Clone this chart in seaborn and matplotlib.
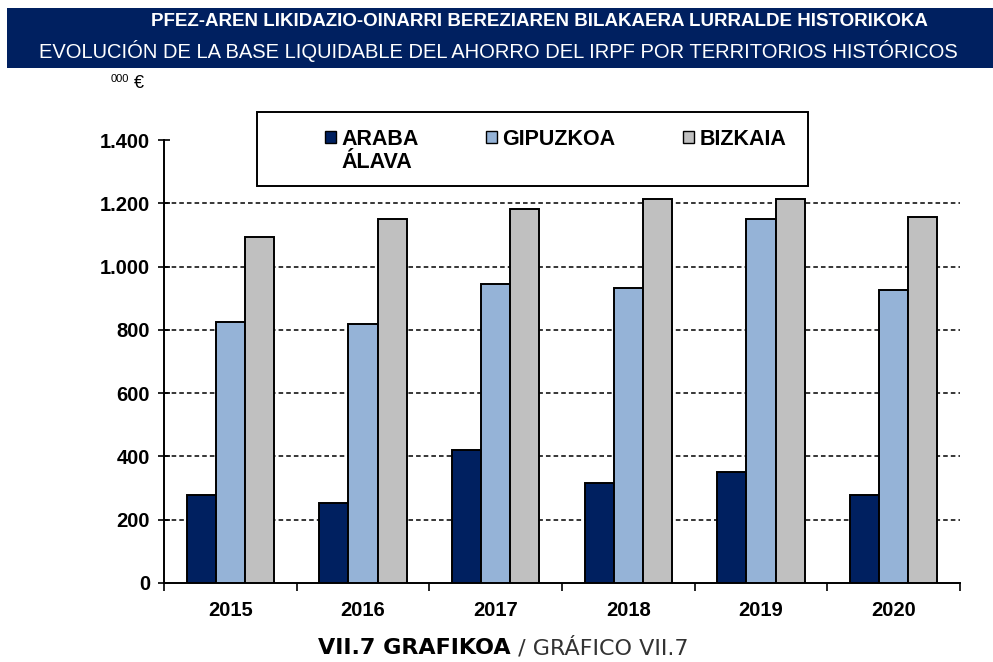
import matplotlib
matplotlib.use("Agg")
import matplotlib.pyplot as plt
from matplotlib.patches import Rectangle, Patch
from matplotlib.ticker import FuncFormatter, FixedLocator
import seaborn as sns
import pandas as pd

years = ["2015", "2016", "2017", "2018", "2019", "2020"]
araba = [277, 253, 420, 316, 351, 277]
gipuzkoa = [825, 819, 945, 932, 1150, 927]
bizkaia = [1094, 1150, 1182, 1213, 1213, 1157]
series_names = ["ARABA", "GIPUZKOA", "BIZKAIA"]
araba_second_line = "ÁLAVA"
colors = ["#002060", "#95B3D7", "#C0C0C0"]
title_eu = "PFEZ-AREN LIKIDAZIO-OINARRI BEREZIAREN BILAKAERA LURRALDE HISTORIKOKA"
title_es = "EVOLUCIÓN DE LA BASE LIQUIDABLE DEL AHORRO DEL IRPF POR TERRITORIOS HISTÓRICOS"
unit_label = "000"
caption_bold = "VII.7 GRAFIKOA"
caption_norm = " / GRÁFICO VII.7"

rows = []
for name, vals in zip(series_names, [araba, gipuzkoa, bizkaia]):
    for y, v in zip(years, vals):
        rows.append({"year": y, "serie": name, "value": v})
df = pd.DataFrame(rows)

sns.set_theme(style="white")
plt.rcParams["font.family"] = ["Liberation Sans", "DejaVu Sans"]
plt.rcParams["text.color"] = "black"

W, H = 993, 662
fig = plt.figure(figsize=(W / 100, H / 100), dpi=100)
fig.patch.set_facecolor("white")
ax = fig.add_axes([164 / W, 1 - 583 / H, (960 - 164) / W, (583 - 140) / H])

sns.barplot(data=df, x="year", y="value", hue="serie", hue_order=series_names,
            palette=colors, width=0.66, ax=ax, edgecolor="black", linewidth=1.4,
            legend=False, saturation=1, zorder=3)

ax.set_ylim(0, 1400)
ax.set_xlim(-0.5, 5.5)
ax.set_yticks(range(0, 1401, 200))
ax.yaxis.set_major_formatter(FuncFormatter(lambda v, p: f"{int(v):,}".replace(",", ".")))
for yv in range(200, 1201, 200):
    ax.axhline(yv, color="black", linestyle=(0, (3, 2)), linewidth=1.1, zorder=1)
ax.set_xlabel("")
ax.set_ylabel("")
for s in ["top", "right"]:
    ax.spines[s].set_visible(False)
for s in ["left", "bottom"]:
    ax.spines[s].set_color("black")
    ax.spines[s].set_linewidth(1.4)
ax.tick_params(axis="y", which="major", left=True, direction="inout", length=8, width=1.2,
               color="black", labelsize=14.5, pad=6)
ax.tick_params(axis="x", which="major", bottom=False, labelsize=14.5, pad=7)
ax.xaxis.set_minor_locator(FixedLocator([i - 0.5 for i in range(7)]))
ax.tick_params(axis="x", which="minor", bottom=True, direction="out", length=6, width=1.2,
               color="black")
for lab in ax.get_yticklabels() + ax.get_xticklabels():
    lab.set_fontweight("bold")
    lab.set_color("black")

# Title banner
fig.patches.append(Rectangle((7 / W, 1 - 68 / H), 1 - 7 / W, 60 / H, transform=fig.transFigure,
                             facecolor="#002060", edgecolor="none", zorder=0))
fig.text(539 / W, 1 - 22 / H, title_eu, ha="center", va="center", color="white",
         fontsize=13.5, fontweight="bold")
fig.text(498 / W, 1 - 51 / H, title_es, ha="center", va="center", color="white",
         fontsize=14.5)
fig.text(111 / W, 1 - 79 / H, unit_label, ha="left", va="center", fontsize=8, color="black")
fig.text(134 / W, 1 - 84 / H, "€", ha="left", va="center", fontsize=13, color="black")

# Legend box
fig.patches.append(Rectangle((257 / W, 1 - 186 / H), (808 - 257) / W, 74 / H,
                             transform=fig.transFigure, facecolor="white", edgecolor="black",
                             linewidth=1.4, zorder=5))
handles = [Patch(facecolor=c, edgecolor="black", linewidth=1.0) for c in colors]
leg = fig.legend(handles, series_names, loc="upper left", bbox_to_anchor=(325 / W, 1 - 129 / H),
                 ncol=3, frameon=False, handlelength=0.5, handleheight=0.5, handletextpad=0.25,
                 columnspacing=3.15, borderpad=0, borderaxespad=0, labelcolor="black",
                 prop={"weight": "bold", "size": 15.5})
leg.set_zorder(6)

r = fig.canvas.get_renderer()
fig.canvas.draw()
ext = leg.get_texts()[0].get_window_extent(r)
fig.text(ext.x0 / W, 1 - 162 / H, araba_second_line, ha="left", va="center", fontsize=15.5,
         fontweight="bold", color="black", zorder=7)

# Caption
t1 = fig.text(0, 1 - 648 / H, caption_bold, ha="left", va="center", fontsize=16,
              fontweight="bold", family="DejaVu Sans", color="black")
t2 = fig.text(0, 1 - 648 / H, caption_norm, ha="left", va="center", fontsize=16,
              family="DejaVu Sans", color="#333333")
w1 = t1.get_window_extent(r).width
w2 = t2.get_window_extent(r).width
x0 = 503 - (w1 + w2) / 2
t1.set_x(x0 / W)
t2.set_x((x0 + w1) / W)

fig.savefig("out.png", dpi=100)
